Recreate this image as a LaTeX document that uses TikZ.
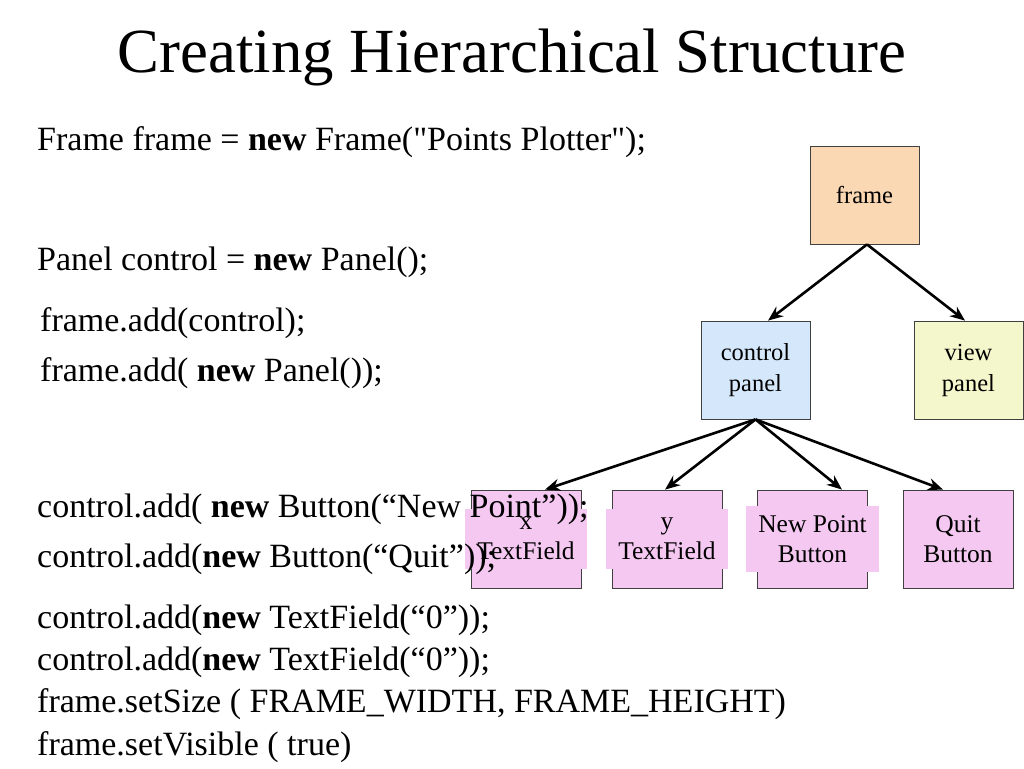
\documentclass[tikz,border=0pt]{standalone}
\usepackage{fontspec}
\setmainfont{Liberation Serif}
\usetikzlibrary{positioning, arrows.meta}

\definecolor{framefill}{HTML}{FAD8B4}
\definecolor{controlfill}{HTML}{D5E8FB}
\definecolor{viewfill}{HTML}{F3F7CB}
\definecolor{leaffill}{HTML}{F5C8F2}
\definecolor{boxline}{HTML}{404040}

\tikzset{
    box/.style={draw=boxline, line width=0.8pt, minimum width=109pt, minimum height=98pt,
        inner sep=0pt, align=center, font=\fontsize{24.5}{31}\selectfont},
    leaf/.style={box, fill=leaffill, minimum width=110pt},
    leaftext/.style={fill=leaffill, inner xsep=12pt, inner ysep=9pt, align=center,
        font=\fontsize{25.5}{30}\selectfont},
    code/.style={anchor=base west, inner sep=0pt, font=\fontsize{34}{40}\selectfont},
    link/.style={line width=2.6pt, -{Stealth[length=15pt, width=12pt]}}
}

\begin{document}
\begin{tikzpicture}[x=1pt, y=-1pt]
        \useasboundingbox (0, 0) rectangle (1024, 768);

        % Title
        \node[anchor=base, inner sep=0pt, font=\fontsize{62.8}{70}\selectfont] (title) at (512, 72) {Creating Hierarchical Structure};

        % Blocks
        \node[box, fill=framefill] (frame) at (864.5, 195) {frame};
        \node[box, fill=controlfill] (control) at (755.5, 370) {control\\panel};
        \node[box, fill=viewfill] (view) at (968.5, 370) {view\\panel};

        \node[leaf] (xfield) at (526, 539) {};
        \node[leaftext] at (526, 539) {x\\TextField};
        \node[leaf] (yfield) at (667, 539) {};
        \node[leaftext] at (667, 539) {y\\TextField};
        \node[leaf] (newbutton) at (812.5, 539) {};
        \node[leaftext] at (812.5, 539) {New Point\\Button};
        \node[leaf] (quitbutton) at (958, 539) {};
        \node[leaftext] at (958, 539) {Quit\\Button};

        % Arrows
        \draw[link] ([xshift=2.5pt]frame.south) -- ([xshift=12.5pt]control.north);
        \draw[link] ([xshift=2.5pt]frame.south) -- ([xshift=-3.5pt]view.north);
        \draw[link] (control.south) -- ([xshift=19pt]xfield.north);
        \draw[link] (control.south) -- ([xshift=-2pt]yfield.north);
        \draw[link] (control.south) -- ([xshift=29.5pt]newbutton.north);
        \draw[link] (control.south) -- ([xshift=-15pt]quitbutton.north);

        % Code
        \node[code] (line1) at (37, 150) {Frame frame = \textbf{new} Frame(\textquotedbl Points Plotter\textquotedbl);};
        \node[code] (line2) at (37, 270) {Panel control = \textbf{new} Panel();};
        \node[code] (line3) at (40, 331) {frame.add(control);};
        \node[code] (line4) at (40, 381) {frame.add( \textbf{new} Panel());};
        \node[code] (line5) at (37, 517) {control.add( \textbf{new} Button(“New Point”));};
        \node[code] (line6) at (37, 567) {control.add(\textbf{new} Button(“Quit”));};
        \node[code] (line7) at (37, 628) {control.add(\textbf{new} TextField(“0”));};
        \node[code] (line8) at (37, 670) {control.add(\textbf{new} TextField(“0”));};
        \node[code] (line9) at (37, 712) {frame.setSize ( FRAME\_WIDTH, FRAME\_HEIGHT)};
        \node[code] (line10) at (37, 755) {frame.setVisible ( true)};
    \end{tikzpicture}
\end{document}
